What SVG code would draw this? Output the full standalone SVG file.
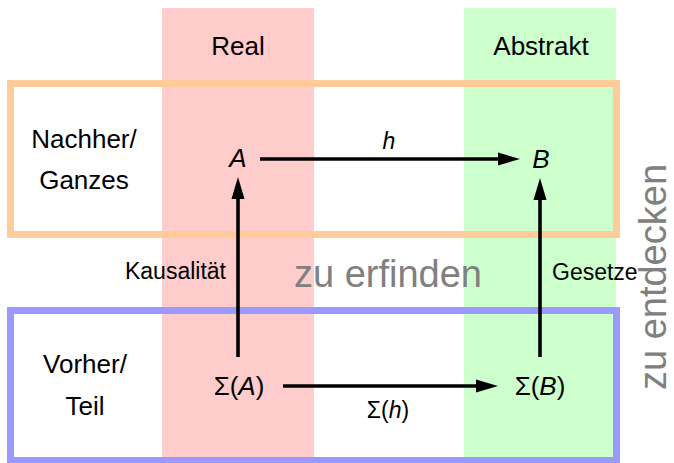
<svg xmlns="http://www.w3.org/2000/svg" width="674" height="463" viewBox="0 0 674 463">
<style>
text{font-family:"Liberation Sans",Arial,sans-serif;fill:#000}
.m{font-size:26px}
.s{font-size:23px}
.big{font-size:38px;fill:#808080}
.it{font-style:italic}
.c{text-anchor:middle}
.ln{stroke:#000;stroke-width:3.6;fill:none}
.hd{fill:#000}
</style>
<rect id="band-real" x="162" y="8" width="152" height="455" fill="#ffcccc"/>
<rect id="band-abstrakt" x="464" y="8" width="152" height="455" fill="#ccffcc"/>
<rect id="row-nachher" x="10.5" y="83.5" width="606" height="151" fill="none" stroke="#ffcc99" stroke-width="7"/>
<rect id="row-vorher" x="10.5" y="310.5" width="606" height="150" fill="none" stroke="#9999ff" stroke-width="7"/>
<g id="labels">
<text class="m c" x="238" y="55">Real</text>
<text class="m c" x="541" y="55">Abstrakt</text>
<text class="m c" x="84" y="148">Nachher/</text>
<text class="m c" x="84" y="189">Ganzes</text>
<text class="m c" x="85" y="373">Vorher/</text>
<text class="m c" x="85" y="415">Teil</text>
<text class="big c" x="388" y="287">zu erfinden</text>
<text class="big c" transform="translate(666,277) rotate(-90)">zu entdecken</text>
</g>
<g id="node-A"><text class="m c it" x="238" y="167">A</text></g>
<g id="node-B"><text class="m c it" x="541" y="168">B</text></g>
<g id="node-SigmaA"><text class="m c" x="239" y="395">Σ(<tspan class="it">A</tspan>)</text></g>
<g id="node-SigmaB"><text class="m c" x="540" y="395">Σ(<tspan class="it">B</tspan>)</text></g>
<g id="connectors">
<line class="ln" x1="260" y1="159" x2="500" y2="159"/>
<path class="hd" d="M520,159 L498,152.5 L498,165.5 Z"/>
<text class="s c it" x="389" y="149">h</text>
<line class="ln" x1="283" y1="386" x2="478" y2="386"/>
<path class="hd" d="M498,386 L476,379.5 L476,392.5 Z"/>
<text class="s c" x="388" y="418">Σ(<tspan class="it">h</tspan>)</text>
<line class="ln" x1="238" y1="357" x2="238" y2="197"/>
<path class="hd" d="M238,177 L231.5,199 L244.5,199 Z"/>
<text class="s" x="226" y="279" text-anchor="end">Kausalität</text>
<line class="ln" x1="540" y1="357" x2="540" y2="198"/>
<path class="hd" d="M540,178 L533.5,200 L546.5,200 Z"/>
<text class="s" x="552" y="280">Gesetze</text>
</g>
</svg>
